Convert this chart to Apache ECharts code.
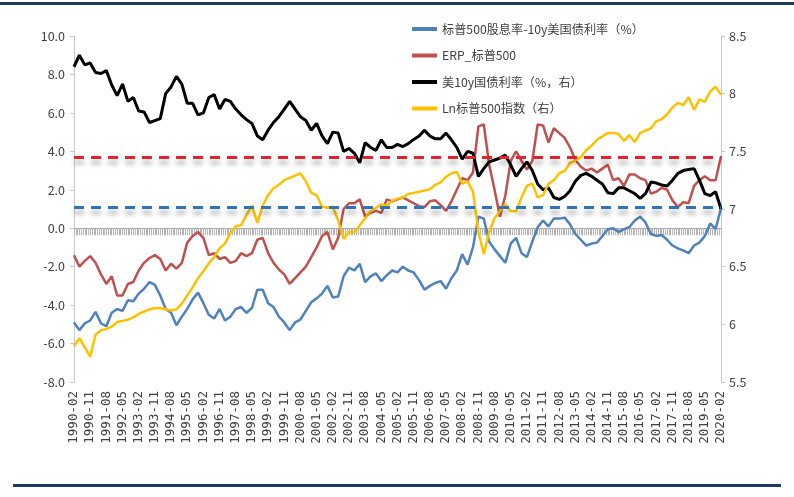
<!DOCTYPE html>
<html>
<head>
<meta charset="utf-8">
<script src="https://cdn.jsdelivr.net/npm/echarts@6/dist/echarts.min.js"></script>
<style>
html,body{margin:0;padding:0;background:#fff;}
#chart{width:794px;height:497px;}
</style>
</head>
<body>
<div id="chart"></div>
<script>
// Quarterly readings (Feb, May, Aug, Nov of each year 1990-2019, then 2020-02)
const spreadDivYield = [
 -4.9,-5.3,-4.95,-4.8, -4.35,-4.95,-5.1,-4.4, -4.2,-4.3,-3.75,-3.8, -3.4,-3.15,-2.8,-2.95,
 -3.5,-4.2,-4.4,-5.05, -4.6,-4.2,-3.7,-3.35, -3.9,-4.5,-4.7,-4.2, -4.8,-4.6,-4.2,-4.1,
 -4.4,-4.15,-3.2,-3.2, -3.9,-4.1,-4.6,-4.9, -5.3,-4.9,-4.75,-4.3, -3.85,-3.65,-3.4,-3.0,
 -3.6,-3.55,-2.5,-2.05, -2.2,-1.85,-2.8,-2.5, -2.35,-2.75,-2.45,-2.2, -2.3,-2.0,-2.2,-2.3,
 -2.7,-3.2,-3.0,-2.85, -2.75,-3.15,-2.6,-2.2, -1.35,-1.9,-1.0,0.6, 0.5,-0.7,-1.1,-1.45,
 -1.8,-0.8,-0.5,-1.3, -1.5,-0.7,0.05,0.4, 0.1,0.5,0.5,0.55, 0.2,-0.3,-0.6,-0.9,
 -0.8,-0.75,-0.4,-0.05, 0.0,-0.2,-0.05,0.05, 0.4,0.6,0.3,-0.3, -0.4,-0.35,-0.6,-0.9,
 -1.05,-1.15,-1.3,-0.9, -0.75,-0.4,0.25,-0.05, 1.05
];
const erpSP500 = [
 -1.4,-2.0,-1.7,-1.45, -1.8,-2.4,-2.9,-2.5, -3.5,-3.5,-2.9,-2.8, -2.2,-1.8,-1.55,-1.4,
 -1.6,-2.2,-1.85,-2.1, -1.8,-0.75,-0.4,-0.2, -0.5,-1.4,-1.3,-1.6, -1.5,-1.8,-1.7,-1.3,
 -1.45,-1.3,-0.6,-0.5, -1.3,-1.8,-2.15,-2.4, -2.9,-2.6,-2.3,-2.0, -1.5,-1.0,-0.4,-0.2,
 -1.1,-0.5,1.0,1.3, 1.3,1.5,0.6,0.8, 0.9,0.8,1.5,1.4, 1.5,1.6,1.45,1.3,
 1.15,1.1,1.4,1.45, 1.2,0.9,1.4,2.0, 2.6,2.5,2.9,5.3, 5.4,3.3,2.0,0.6,
 1.7,3.5,4.0,3.5, 3.05,3.5,5.4,5.35, 4.45,5.2,4.95,4.7, 4.2,3.55,3.2,3.0,
 3.1,2.9,3.1,3.3, 2.5,2.6,2.2,2.8, 2.8,2.6,2.5,1.8, 1.9,2.1,2.0,1.45,
 1.1,1.35,1.3,2.2, 2.5,2.7,2.5,2.5, 3.75
];
const us10y = [
 8.4,9.0,8.5,8.6, 8.1,8.05,8.2,7.45, 6.9,7.5,6.6,6.8, 6.1,6.05,5.5,5.6,
 5.7,7.0,7.35,7.9, 7.5,6.5,6.5,5.9, 6.0,6.8,6.95,6.2, 6.7,6.6,6.2,5.9,
 5.65,5.45,4.8,4.6, 5.1,5.5,5.8,6.2, 6.6,6.2,5.8,5.6, 5.1,5.45,4.8,4.4,
 5.0,4.95,4.0,4.15, 3.9,3.4,4.45,4.2, 4.05,4.6,4.2,4.2, 4.36,4.25,4.4,4.62,
 4.8,5.1,4.8,4.65, 4.65,4.95,4.6,4.2, 3.6,4.0,3.9,2.7, 3.1,3.45,3.55,3.65,
 3.8,3.3,2.7,3.1, 3.45,3.0,2.3,2.0, 2.1,1.6,1.5,1.65, 1.95,2.45,2.75,2.85,
 2.7,2.5,2.3,1.85, 1.8,2.1,2.1,1.95, 1.8,1.55,1.8,2.4, 2.35,2.25,2.2,2.5,
 2.85,3.0,3.05,3.1, 2.5,1.8,1.7,1.9, 1.0
];
const lnSP500 = [
 5.81,5.88,5.80,5.72, 5.91,5.95,5.96,5.98, 6.02,6.03,6.04,6.06, 6.09,6.11,6.13,6.14,
 6.14,6.13,6.12,6.13, 6.18,6.25,6.32,6.40, 6.46,6.53,6.58,6.66, 6.70,6.79,6.85,6.86,
 6.95,7.03,6.88,7.03, 7.12,7.18,7.21,7.25, 7.27,7.29,7.31,7.24, 7.14,7.12,7.02,7.01,
 7.02,6.90,6.74,6.80, 6.80,6.86,6.92,6.98, 7.01,7.04,7.03,7.07, 7.09,7.10,7.13,7.14,
 7.15,7.16,7.17,7.21, 7.23,7.28,7.31,7.32, 7.22,7.24,7.15,6.80, 6.61,6.80,6.92,6.98,
 7.04,6.98,6.98,7.10, 7.20,7.22,7.10,7.12, 7.22,7.25,7.31,7.33, 7.40,7.42,7.45,7.51,
 7.55,7.60,7.63,7.66, 7.66,7.65,7.59,7.64, 7.58,7.66,7.68,7.70, 7.76,7.78,7.82,7.88,
 7.92,7.90,7.97,7.86, 7.95,7.93,8.02,8.06, 7.99
];
// reference (mean) levels drawn as dashed lines
const meanERP = 3.71;
const meanSpread = 1.09;

const seriesNames = ['标普500股息率-10y美国债利率（%）','ERP_标普500','美10y国债利率（%，右）','Ln标普500指数（右）'];

// monthly categories 1990-02 .. 2020-02
const months = [];
for (let y = 1990; y <= 2020; y++) {
  for (let m = 1; m <= 12; m++) {
    if (y === 1990 && m < 2) continue;
    if (y === 2020 && m > 2) continue;
    months.push(y + '-' + (m < 10 ? '0' + m : m));
  }
}
// quarterly sample dates
const qDates = months.filter((d, i) => i % 3 === 0);
const pair = arr => arr.map((v, i) => [qDates[i], v]);

const labelFont = "'Noto Sans CJK SC','Noto Sans',sans-serif";
const chart = echarts.init(document.getElementById('chart'));
chart.setOption({
  animation: false,
  backgroundColor: '#fff',
  graphic: [
    {type:'rect', shape:{x:0, y:2, width:794, height:3}, style:{fill:'#1f3a5f'}},
    {type:'rect', shape:{x:13, y:484, width:768, height:3}, style:{fill:'#1f3a5f'}}
  ],
  legend: {
    data: seriesNames,
    orient: 'vertical',
    left: 407,
    top: 15,
    itemWidth: 25,
    itemHeight: 4,
    itemGap: 8.5,
    icon: 'rect',
    textStyle: {fontFamily: labelFont, fontSize: 12.2, color: '#404040', lineHeight: 18}
  },
  grid: {left: 74, right: 73, top: 36, bottom: 115},
  xAxis: [
    {
      type: 'category', data: months, boundaryGap: false,
      axisLine: {show: false, onZero: false},
      axisTick: {show: false},
      axisLabel: {interval: 8, rotate: 90, margin: 9, color: '#404040',
        fontFamily: "'DejaVu Sans Mono',monospace", fontSize: 12.5}
    },
    {
      type: 'category', data: months, boundaryGap: false, position: 'bottom',
      axisLine: {show: true, onZero: true, onZeroAxisIndex: 0, lineStyle: {color: '#a6a6a6', width: 1}},
      axisTick: {show: true, interval: 0, length: 7, lineStyle: {color: '#b4b4b4', width: 1}},
      axisLabel: {show: false}
    }
  ],
  yAxis: [
    {
      type: 'value', min: -8, max: 10, interval: 2,
      axisLine: {show: true, lineStyle: {color: '#c8c8c8'}},
      axisTick: {show: true, length: 4, lineStyle: {color: '#c8c8c8'}},
      splitLine: {show: false},
      axisLabel: {formatter: v => v.toFixed(1), color: '#404040', fontFamily: labelFont, fontSize: 12.5, margin: 9}
    },
    {
      type: 'value', min: 5.5, max: 8.5, interval: 0.5,
      axisLine: {show: true, lineStyle: {color: '#c8c8c8'}},
      axisTick: {show: true, length: 4, lineStyle: {color: '#c8c8c8'}},
      splitLine: {show: false},
      axisLabel: {color: '#404040', fontFamily: labelFont, fontSize: 12.5, margin: 8}
    }
  ],
  series: [
    {
      name: seriesNames[0], type: 'line', xAxisIndex: 0, yAxisIndex: 0,
      data: pair(spreadDivYield), showSymbol: false, symbol: 'none',
      lineStyle: {color: '#4f81bd', width: 2.5}, itemStyle: {color: '#4f81bd'},
      markLine: {
        silent: true, symbol: 'none', label: {show: false},
        data: [
          {yAxis: meanERP, lineStyle: {color: '#e3232c', width: 3, type: [10, 7],
            shadowColor: 'rgba(0,0,0,0.35)', shadowBlur: 5, shadowOffsetY: 5}},
          {yAxis: meanSpread, lineStyle: {color: '#2e75b6', width: 3, type: [10, 7],
            shadowColor: 'rgba(0,0,0,0.35)', shadowBlur: 5, shadowOffsetY: 5}}
        ]
      }
    },
    {
      name: seriesNames[1], type: 'line', xAxisIndex: 0, yAxisIndex: 0,
      data: pair(erpSP500), showSymbol: false, symbol: 'none',
      lineStyle: {color: '#c0504d', width: 2.5}, itemStyle: {color: '#c0504d'}
    },
    {
      name: seriesNames[2], type: 'line', xAxisIndex: 0, yAxisIndex: 0,
      data: pair(us10y), showSymbol: false, symbol: 'none',
      lineStyle: {color: '#000000', width: 3}, itemStyle: {color: '#000000'}
    },
    {
      name: seriesNames[3], type: 'line', xAxisIndex: 0, yAxisIndex: 1,
      data: pair(lnSP500), showSymbol: false, symbol: 'none',
      lineStyle: {color: '#ffc000', width: 2.5}, itemStyle: {color: '#ffc000'}
    }
  ]
});
</script>
</body>
</html>
